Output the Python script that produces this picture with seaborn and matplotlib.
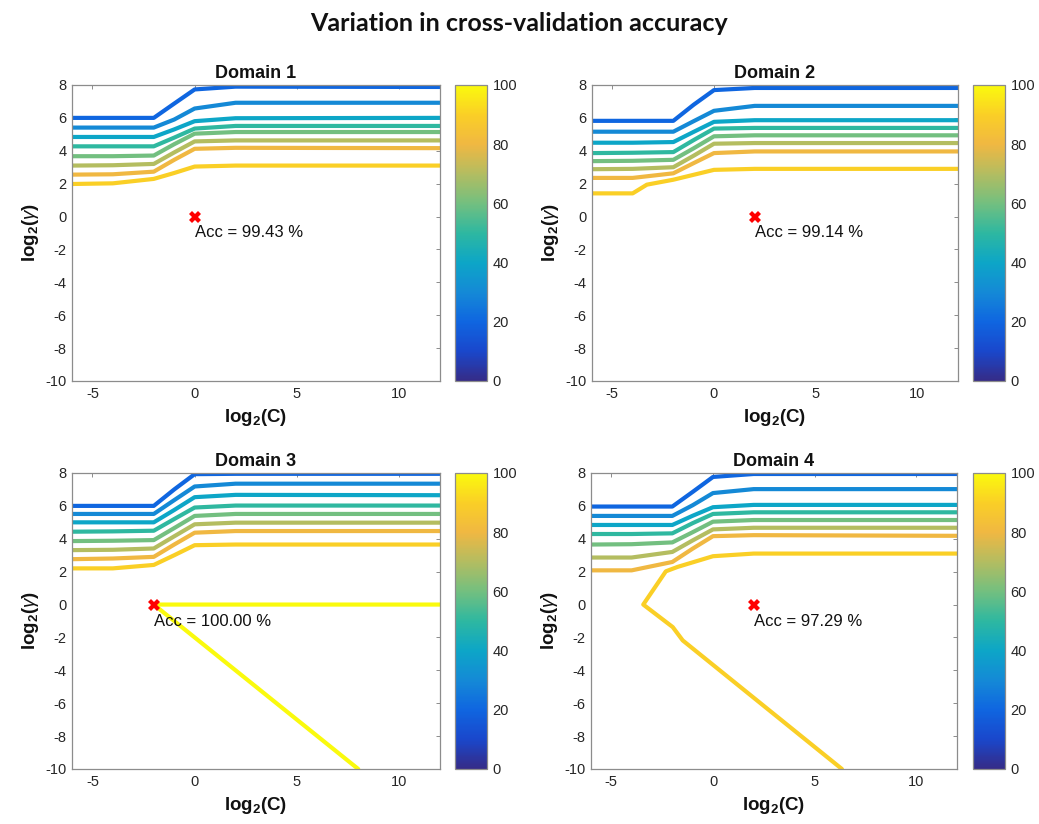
import numpy as np
import pandas as pd
import matplotlib
matplotlib.use("Agg")
import matplotlib.pyplot as plt
import seaborn as sns
from matplotlib.colors import LinearSegmentedColormap, Normalize
from matplotlib.cm import ScalarMappable

# --- data (contour polylines, log2 scale) ---
levels = [20, 30, 40, 50, 60, 70, 80, 90]
knots = [-6, -4, -2, -1, 0, 2, 12]

d1_lines = [
    [6.00, 6.00, 6.00, 6.87, 7.73, 7.90, 7.88],
    [5.41, 5.41, 5.41, 5.90, 6.57, 6.92, 6.92],
    [4.84, 4.84, 4.84, 5.30, 5.80, 5.98, 6.00],
    [4.27, 4.27, 4.27, 4.80, 5.35, 5.51, 5.51],
    [3.67, 3.67, 3.71, 4.40, 5.04, 5.14, 5.14],
    [3.10, 3.12, 3.20, 3.90, 4.57, 4.63, 4.63],
    [2.55, 2.57, 2.73, 3.45, 4.12, 4.18, 4.16],
    [1.98, 2.02, 2.29, 2.65, 3.04, 3.10, 3.10],
]
d2_lines = [
    [5.82, 5.82, 5.82, 6.80, 7.69, 7.82, 7.82],
    [5.16, 5.16, 5.16, 5.80, 6.43, 6.73, 6.73],
    [4.49, 4.49, 4.53, 5.15, 5.76, 5.86, 5.86],
    [3.86, 3.88, 3.92, 4.65, 5.35, 5.39, 5.39],
    [3.37, 3.39, 3.45, 4.15, 4.88, 4.94, 4.94],
    [2.88, 2.90, 3.00, 3.70, 4.43, 4.47, 4.47],
    [2.35, 2.35, 2.63, 3.25, 3.86, 3.96, 3.96],
]
d2_l90_x = [-6, -4, -3.3, -2, 0, 2, 12]
d2_l90_y = [1.41, 1.41, 1.94, 2.24, 2.84, 2.90, 2.90]

d3_lines = [
    [6.00, 6.00, 6.00, 7.00, 7.93, 7.95, 7.95],
    [5.51, 5.51, 5.51, 6.35, 7.18, 7.35, 7.35],
    [5.00, 5.00, 5.00, 5.75, 6.53, 6.67, 6.65],
    [4.43, 4.45, 4.49, 5.20, 5.90, 6.02, 6.02],
    [3.86, 3.88, 3.92, 4.65, 5.39, 5.51, 5.51],
    [3.31, 3.33, 3.41, 4.15, 4.88, 4.98, 4.98],
    [2.76, 2.80, 2.90, 3.65, 4.37, 4.47, 4.47],
    [2.20, 2.20, 2.41, 3.00, 3.61, 3.65, 3.65],
]
d3_l100_x = [12, -2, 8]
d3_l100_y = [0, 0, -10]

d4_lines = [
    [5.96, 5.96, 5.96, 6.85, 7.76, 7.94, 7.94],
    [5.39, 5.39, 5.39, 6.04, 6.78, 7.02, 7.02],
    [4.84, 4.84, 4.84, 5.40, 5.92, 6.06, 6.06],
    [4.29, 4.29, 4.33, 4.95, 5.51, 5.61, 5.61],
    [3.65, 3.67, 3.78, 4.40, 5.04, 5.14, 5.14],
    [2.86, 2.86, 3.20, 3.90, 4.57, 4.67, 4.67],
    [2.08, 2.08, 2.59, 3.40, 4.16, 4.22, 4.18],
]
d4_l90_x = [12, 2, 0, -1.74, -2.32, -3.43, -1.98, -1.49, 6.34]
d4_l90_y = [3.10, 3.10, 2.94, 2.29, 2.02, 0, -1.37, -2.18, -10]

best_c = [0, 2, -2, 2]
best_g = [0, 0, 0, 0]
best_acc = [99.43, 99.14, 100.00, 97.29]
domain_names = ["Domain 1", "Domain 2", "Domain 3", "Domain 4"]

# parula-like colormap
parula = LinearSegmentedColormap.from_list("parula", [
    (0.0, (0.21, 0.17, 0.53)),
    (0.1, (0.10, 0.28, 0.80)),
    (0.2, (0.06, 0.40, 0.88)),
    (0.3, (0.08, 0.54, 0.84)),
    (0.4, (0.05, 0.65, 0.78)),
    (0.5, (0.18, 0.72, 0.63)),
    (0.6, (0.45, 0.75, 0.50)),
    (0.7, (0.70, 0.74, 0.38)),
    (0.8, (0.94, 0.72, 0.26)),
    (0.9, (0.98, 0.81, 0.15)),
    (1.0, (0.98, 0.98, 0.05)),
])
norm = Normalize(0, 100)


def build_frame(lines, extra):
    rows = []
    for i, ys in enumerate(lines):
        for x, y in zip(knots, ys):
            rows.append({"x": x, "y": y, "level": levels[i], "line": i})
    for j, (lvl, xs, ys) in enumerate(extra):
        for x, y in zip(xs, ys):
            rows.append({"x": x, "y": y, "level": lvl, "line": 100 + j})
    return pd.DataFrame(rows)


frames = [
    build_frame(d1_lines, []),
    build_frame(d2_lines, [(90, d2_l90_x, d2_l90_y)]),
    build_frame(d3_lines, [(100, d3_l100_x, d3_l100_y)]),
    build_frame(d4_lines, [(90, d4_l90_x, d4_l90_y)]),
]

sns.set_style("white")
plt.rcParams.update({
    "font.family": ["Liberation Sans", "DejaVu Sans"],
    "axes.unicode_minus": False,
    "mathtext.fontset": "custom",
    "mathtext.rm": "Liberation Sans",
    "mathtext.bf": "Liberation Sans:bold",
    "mathtext.it": "Liberation Sans:italic",
})

W, H = 1039, 824
fig = plt.figure(figsize=(W / 100, H / 100), dpi=100)

# pixel boxes (left, top, right, bottom) for axes and colorbars
ax_boxes = [(72, 85, 440, 381), (592, 85, 958, 381), (72, 473, 440, 769), (591, 473, 957, 769)]
cb_boxes = [(455, 85, 487, 381), (973, 85, 1005, 381), (455, 473, 487, 769), (973, 473, 1005, 769)]


def to_rect(b):
    l, t, r, bt = b
    return [l / W, 1 - bt / H, (r - l) / W, (bt - t) / H]


edge = "#8c8c8c"
tick_col = "#262626"

for k in range(4):
    ax = fig.add_axes(to_rect(ax_boxes[k]))
    df = frames[k]
    sns.lineplot(data=df, x="x", y="y", hue="level", units="line", estimator=None,
                 sort=False, palette=parula, hue_norm=norm, legend=False,
                 linewidth=3.0, ax=ax)
    ax.plot(best_c[k], best_g[k], marker="X", color="red", markersize=9,
            markeredgewidth=0, linestyle="none", zorder=5)
    ax.text(best_c[k], best_g[k] - 1.0, f"Acc = {best_acc[k]:.2f} %", fontsize=12,
            ha="left", va="center", color="#111111")
    ax.set_xlim(-6, 12)
    ax.set_ylim(-10, 8)
    ax.set_xticks([-5, 0, 5, 10])
    ax.set_yticks(np.arange(-10, 9, 2))
    ax.tick_params(direction="in", length=3, width=0.7, colors=edge, labelcolor=tick_col,
                   labelsize=10.5, top=True, right=True, pad=4)
    for s in ax.spines.values():
        s.set_color(edge)
        s.set_linewidth(0.9)
    ax.set_xlabel(r"$\mathbf{log_2(C)}$", fontsize=13.5, labelpad=5, color="#111111")
    ax.set_ylabel(r"$\mathbf{log_2(}\mathit{\gamma}\mathbf{)}$", fontsize=13.5, labelpad=3,
                  color="#111111")
    ax.set_title(domain_names[k], fontsize=13, fontweight="bold", pad=5, color="#111111")

    cax = fig.add_axes(to_rect(cb_boxes[k]))
    cb = fig.colorbar(ScalarMappable(norm=norm, cmap=parula), cax=cax,
                      ticks=[0, 20, 40, 60, 80, 100])
    cb.outline.set_edgecolor(edge)
    cb.outline.set_linewidth(0.9)
    cax.tick_params(direction="in", length=3, width=0.7, colors=edge, labelcolor=tick_col,
                    labelsize=10.5, pad=4)

fig.text(0.5, 0.972, "Variation in cross-validation accuracy", ha="center", va="center",
         fontsize=18, fontweight="bold", family=["Lato", "DejaVu Sans"], color="#111111")

fig.savefig("out.png", dpi=100)
